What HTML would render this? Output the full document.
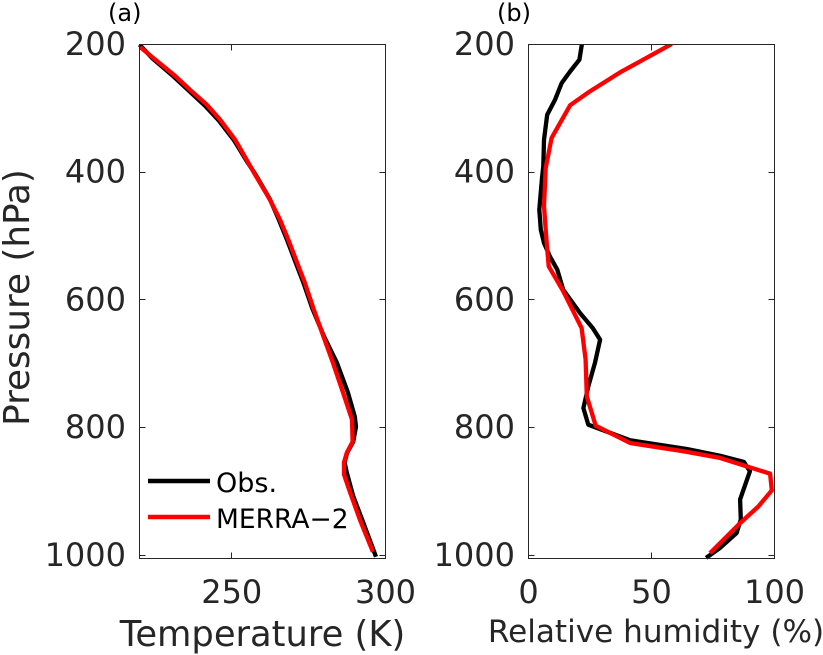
<!DOCTYPE html>
<html lang="en">
<head>
<meta charset="utf-8">
<title>Temperature and humidity profiles</title>
<style>
html,body{margin:0;padding:0;background:#fff;width:823px;height:655px;overflow:hidden}
svg{display:block;font-family:"DejaVu Sans","Liberation Sans",sans-serif}
</style>
</head>
<body>
<svg id="chart" width="823" height="655" viewBox="0 0 823 655" xmlns="http://www.w3.org/2000/svg">
  <defs>
    <clipPath id="clip-a"><rect x="137" y="44" width="248.5" height="516"/></clipPath>
    <clipPath id="clip-b"><rect x="528.5" y="44" width="246" height="516"/></clipPath>
  </defs>
  <rect width="823" height="655" fill="#fff"/>
  <text x="108" y="21" font-size="24" fill="#000">(a)</text>
  <text x="497" y="21" font-size="24" fill="#000">(b)</text>
  <text transform="translate(29,297.5) rotate(-90)" text-anchor="middle" font-size="35.8" fill="#262626">Pressure (hPa)</text>
  <text x="262.5" y="646" text-anchor="middle" font-size="35.3" fill="#262626">Temperature (K)</text>
  <text x="656" y="642" text-anchor="middle" font-size="31.1" fill="#262626">Relative humidity (%)</text>
  <g id="panel-a"></g>
  <g id="panel-b"></g>
  <g>
    <line x1="148" x2="210" y1="481" y2="481" stroke="#000" stroke-width="4.5"/>
    <text x="216" y="492" font-size="27" fill="#000">Obs.</text>
    <line x1="148" x2="210" y1="517" y2="517" stroke="#f00" stroke-width="4.5"/>
    <text x="216" y="528" font-size="26.5" fill="#000">MERRA−2</text>
  </g>
</svg>
<script>
const pressureTicks = [200, 400, 600, 800, 1000];
const tempTicks = [250, 300];
const rhTicks = [0, 50, 100];

const tempObsT = [220, 224.2, 231, 236, 241.4, 245.8, 250.8, 254.7, 257.7, 262.4, 265.4, 268, 270.7, 273.4, 276.2, 280, 284.2, 287.8, 290, 290.4, 289.5, 287.5, 286.7, 287.4, 289.5, 292.7, 296.9];
const tempObsP = [201, 222.5, 250.5, 273, 297, 320, 351, 382, 404, 443, 476, 507, 541, 575, 614, 657.7, 699, 746, 783.4, 799, 822.6, 840, 855, 871, 908, 948.6, 1002.6];
const tempMerraT = [220.2, 224.5, 231.5, 236.4, 241.9, 246.2, 251.1, 254.8, 257.6, 262.4, 265.7, 268.4, 271.1, 273.8, 276.5, 279.8, 282.9, 286.2, 289.1, 289.3, 287.4, 286.5, 286.5, 288.5, 291.7, 295.9];
const tempMerraP = [204.7, 221.9, 249.6, 271.5, 295, 318.5, 349.8, 381, 404.6, 443.7, 475, 506.4, 540.3, 574, 613, 657.7, 699, 746, 788, 822.6, 840, 855, 874, 902, 945, 995];

const rhObsH = [21.7, 20.7, 16.9, 13.5, 10.8, 7.6, 6.3, 6, 5.5, 4.4, 5, 6.3, 8.7, 11.7, 14.1, 20.9, 26.1, 29.1, 27, 24.3, 22.3, 24.3, 41.3, 64.3, 77.8, 87.6, 90, 86, 86.3, 84.6, 77.8, 72.2];
const rhObsP = [200, 224.6, 243, 261, 287, 310.7, 350, 391.6, 410, 459.4, 490.7, 511.5, 532.5, 553.3, 584.6, 621, 644.6, 663, 699.6, 736, 770, 796, 820.5, 834, 844.5, 854.4, 869, 913, 944.7, 965.5, 989, 1004.6];
const rhMerraH = [58.2, 37.2, 25, 16.9, 9.4, 7, 6.3, 7.4, 8.2, 14.1, 21.6, 23.2, 23.7, 27.3, 41.3, 62.9, 77.8, 98.2, 98.9, 93.4, 86, 73.8];
const rhMerraP = [200, 244.5, 274, 296, 347, 394, 454, 511.5, 548, 587, 644.6, 694, 751.7, 797.5, 824.6, 837.7, 848, 872.7, 898.8, 924, 950, 997];

const NS = 'http://www.w3.org/2000/svg';
const axisTop = 44, axisBottom = 558, axisWidth = 246;
const pMin = 200, pMax = 1004.7;
const yScale = p => axisTop + (p - pMin) / (pMax - pMin) * (axisBottom - axisTop);

function make(tag, attrs, parent) {
  const el = document.createElementNS(NS, tag);
  for (const k in attrs) el.setAttribute(k, attrs[k]);
  parent.appendChild(el);
  return el;
}

function drawSeries(parent, clipId, xs, ps, xScale, color, name) {
  const pts = xs.map((v, i) => xScale(v).toFixed(1) + ',' + yScale(ps[i]).toFixed(1)).join(' ');
  const line = make('polyline', {points: pts, fill: 'none', stroke: color, 'stroke-width': 4.3, 'stroke-linejoin': 'round', 'clip-path': 'url(#' + clipId + ')'}, parent);
  
  
}

function drawAxes(parent, left, xScale, xTicks, prefix) {
  const right = left + axisWidth;
  const box = make('rect', {x: left, y: axisTop + 0.5, width: axisWidth, height: axisBottom - axisTop, fill: 'none', stroke: '#262626', 'stroke-width': 1}, parent);
  
  
  pressureTicks.forEach(p => {
    const y = Math.round(yScale(p)) + 0.5;
    const t = make('path', {d: 'M' + left + ' ' + y + 'h6M' + right + ' ' + y + 'h-6', stroke: '#262626', 'stroke-width': 1, fill: 'none'}, parent);
    
    
    const label = make('text', {x: left - 13.5, y: yScale(p) + 11, 'text-anchor': 'end', 'font-size': 32, fill: '#262626'}, parent);
    label.textContent = p;
    
    
  });
  xTicks.forEach(v => {
    const x = Math.round(xScale(v) - 0.5) + 0.5;
    const t = make('path', {d: 'M' + x + ' ' + (axisBottom + 0.5) + 'v-6M' + x + ' ' + (axisTop + 0.5) + 'v6', stroke: '#262626', 'stroke-width': 1, fill: 'none'}, parent);
    
    
    const label = make('text', {x: xScale(v), y: 603, 'text-anchor': 'middle', 'font-size': 32, fill: '#262626'}, parent);
    label.textContent = v;
    
    
  });
}

const tempScale = t => 139.5 + (t - 220) / 80 * axisWidth;
const rhScale = h => 528.5 + h / 100 * axisWidth;
const panelA = document.getElementById('panel-a');
const panelB = document.getElementById('panel-b');

drawSeries(panelA, 'clip-a', tempObsT, tempObsP, tempScale, '#000', 'temperature-obs-line');
drawSeries(panelA, 'clip-a', tempMerraT, tempMerraP, tempScale, '#f00', 'temperature-merra2-line');
drawAxes(panelA, 139.5, tempScale, tempTicks, 'temperature');
drawSeries(panelB, 'clip-b', rhObsH, rhObsP, rhScale, '#000', 'humidity-obs-line');
drawSeries(panelB, 'clip-b', rhMerraH, rhMerraP, rhScale, '#f00', 'humidity-merra2-line');
drawAxes(panelB, 528.5, rhScale, rhTicks, 'humidity');
</script>
</body>
</html>
